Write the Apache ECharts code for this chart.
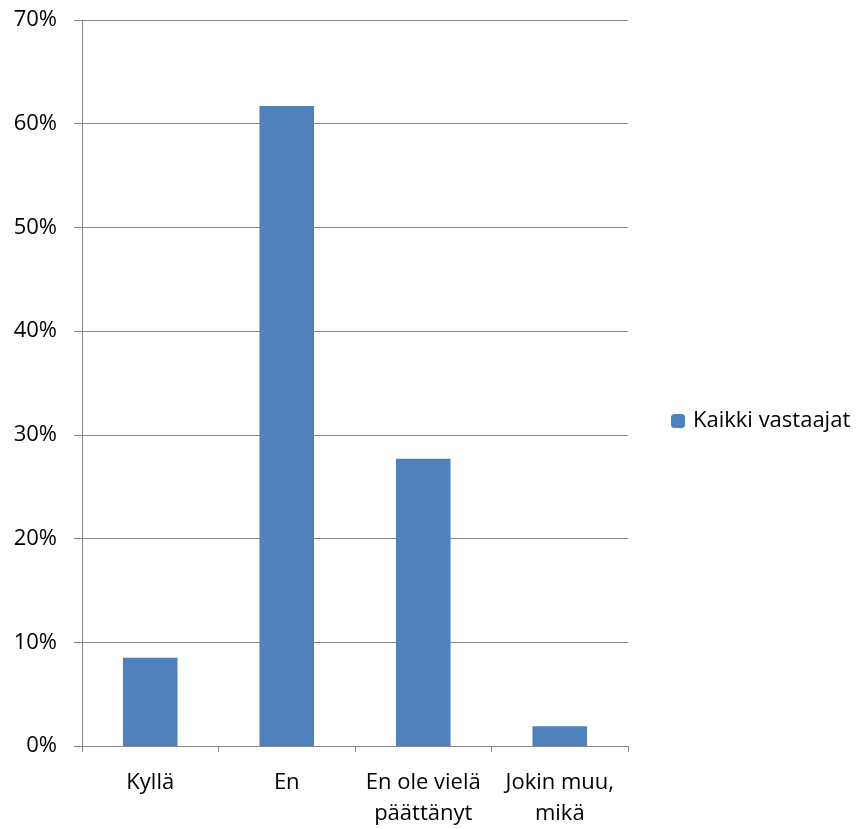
<!DOCTYPE html>
<html><head><meta charset="utf-8">
<script src="https://cdn.jsdelivr.net/npm/echarts@6/dist/echarts.min.js"></script>
<style>html,body{margin:0;padding:0;background:#fff}#c{width:862px;height:829px}</style>
</head><body><div id="c"></div>
<script>
const categories = ["Kyllä", "En", "En ole vielä\npäättänyt", "Jokin muu,\nmikä"];
const seriesName = "Kaikki vastaajat";
const values = [8.5, 61.7, 27.7, 1.9];
const yTicks = [0, 10, 20, 30, 40, 50, 60, 70];

const font = "'Open Sans', 'Noto Sans', sans-serif";
const chart = echarts.init(document.getElementById('c'), null, {renderer: 'canvas'});
chart.setOption({
  animation: false,
  backgroundColor: '#fff',
  grid: {left: 82, right: 234, top: 20, bottom: 76, containLabel: false},
  legend: {
    data: [seriesName], orient: 'vertical', left: 666, top: 405,
    itemWidth: 14, itemHeight: 14, itemGap: 8,
    textStyle: {fontFamily: font, fontSize: 22, color: '#000', padding: [0, 0, 0, 3]}
  },
  xAxis: {
    type: 'category', data: categories,
    axisLine: {lineStyle: {color: '#868686', width: 1}},
    axisTick: {show: true, length: 6, lineStyle: {color: '#868686'}},
    axisLabel: {fontFamily: font, fontSize: 22, color: '#000', margin: 21, lineHeight: 31, interval: 0}
  },
  yAxis: {
    type: 'value', min: yTicks[0], max: yTicks[yTicks.length - 1], interval: 10,
    axisLine: {show: true, lineStyle: {color: '#868686', width: 1}},
    axisTick: {show: true, length: 8, lineStyle: {color: '#868686'}},
    splitLine: {lineStyle: {color: '#868686', width: 1}},
    axisLabel: {fontFamily: font, fontSize: 22, color: '#000', margin: 25, formatter: v => v + '%'}
  },
  series: [{
    name: seriesName, type: 'bar', data: values,
    barWidth: '40%',
    itemStyle: {color: '#4F81BD'}
  }]
});
</script></body></html>
